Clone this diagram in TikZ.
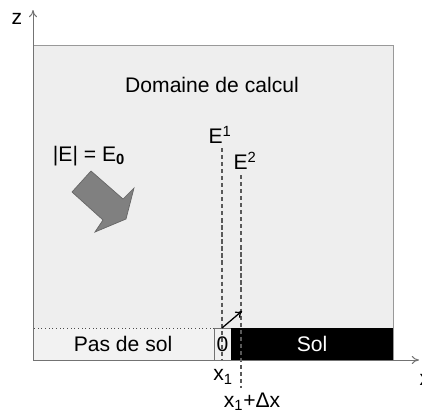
\documentclass[tikz,border=0pt]{standalone}
\usepackage{fontspec}
\setmainfont{Liberation Sans}
\usepackage{xcolor}
\usetikzlibrary{arrows.meta}
\definecolor{domfill}{HTML}{EEEEEE}
\definecolor{lightfill}{HTML}{F2F2F2}
\definecolor{bigarrow}{HTML}{808080}

\begin{document}
\begin{tikzpicture}[x=0.025cm, y=-0.025cm,
  axe/.style={draw=black!55, line width=0.7pt, -{To[length=1.8mm, width=2mm]}},
  lbl/.style={font=\fontsize{15}{18}\selectfont, inner sep=0pt},
  repere/.style={draw=black!65, line width=0.8pt, dash pattern=on 3pt off 2pt},
  zone/.style={line width=0.6pt}
]
\useasboundingbox (0,0) rectangle (422,414);

% domaine
\draw[zone, draw=black!40, fill=domfill] (33,45) rectangle (393,360);
\node[lbl] (titre) at (212,85) {Domaine de calcul};

% bande du bas
\draw[zone, draw=black!70, dotted, fill=lightfill] (33,328) rectangle (214,360);
\node[lbl] (passol) at (123,344) {Pas de sol};
\draw[zone, draw=black!55, fill=lightfill] (214,328) rectangle (231,360);
\node[lbl] (zero) at (222.5,344) {0};
\fill[black] (231,328) rectangle (393,360);
\node[lbl, text=white] (sol) at (312,344) {Sol};

% onde incidente
\node[lbl] (champ) at (89,156) {|E| = E\textsubscript{\textbf{0}}};
\draw[fill=bigarrow, draw=black!60, line width=0.5pt]
  (72,192) -- (91,171) -- (123,199) -- (134,188) -- (126,219) -- (95,232) -- (103,220) -- cycle;

% plans E1 et E2
\node[lbl] (e1) at (220,135) {E\textsuperscript{1}};
\node[lbl] (e2) at (245,161) {E\textsuperscript{2}};
\coordinate (e1bas) at (222,360);
\coordinate (e2bas) at (241,388);
\draw[repere] (222,148) -- (e1bas);
\draw[repere] (241,175) -- (e2bas);

\coordinate (pied) at (222,328);
\coordinate (pointe) at (242,311);
\draw[black, line width=0.9pt, -{To[length=1.6mm, width=2mm]}] (pied) -- (pointe);

\node[lbl] (x1) at (223,377) {x\textsubscript{1}};
\node[lbl] (x1dx) at (252,402) {x\textsubscript{1}+Δx};

% axes
\coordinate (O) at (33,360);
\coordinate (zend) at (33,10);
\coordinate (xend) at (419,360);
\draw[axe] (O) -- (zend);
\draw[axe] (O) -- (xend);
\node[lbl] (zlbl) at (17,19) {z};
\node[lbl] (xlbl) at (425,380) {x};
\end{tikzpicture}
\end{document}
